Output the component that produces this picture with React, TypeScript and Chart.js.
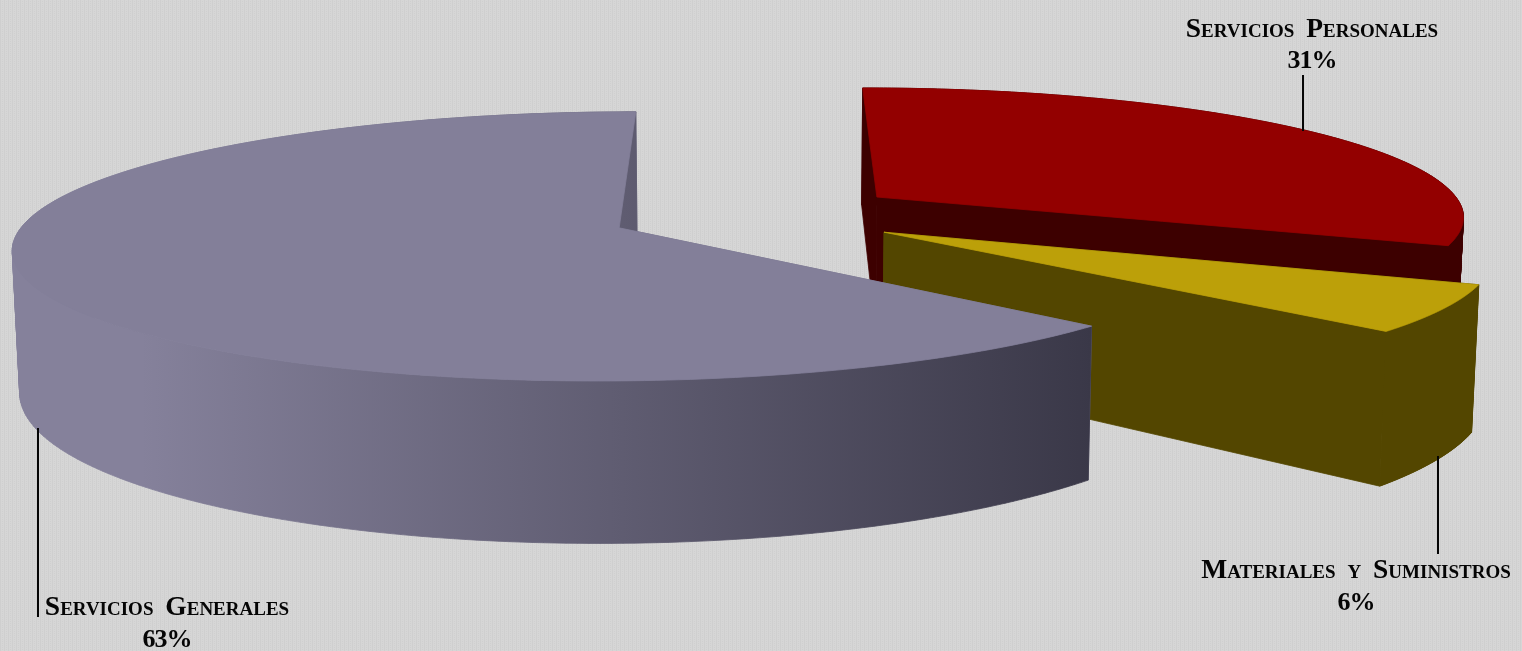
import React, { useEffect, useRef } from "react";
import { Chart, registerables } from "chart.js";

Chart.register(...registerables);

const categories = ["Servicios Personales", "Materiales y Suministros", "Servicios Generales"];
const shares = [31.1, 5.7, 63.2];

const topColors = ["#930000", "#bca009", "#837f99"];
const startWallColors = ["#3d0000", "#534600", "#757189"];
const outerWallStops: string[][] = [
  ["#3d0000", "#3d0000"],
  ["#534600", "#534600"],
  ["#85819b", "#85819b", "#3a3848"],
];

const W = 1522;
const H = 651;
const CX = 756.5;
const CY = 214.7;
const RADIUS = 590;
const OFFSET = 592; // the library applies offset / 4
const TILT = 128.4;
const PERSP = 0.136;

const labelLayout = [
  { x: 1312, y: 30, py: 61, line: [1303, 75, 1303, 131] },
  { x: 1356, y: 571, py: 603, line: [1438, 456, 1438, 554] },
  { x: 167, y: 608, py: 640, line: [38, 428, 38, 617] },
];

type P = [number, number];

function project(X: number, Y: number, R: number, cx: number, cy: number): P {
  const n = Y / R;
  const s = 1 / (1 - PERSP * n);
  return [cx + X * s, cy + TILT * n * s];
}
function lower(p: P, cx: number): P {
  return [cx + (p[0] - cx) * 0.99, 1.155 * p[1] + 103.4];
}
function area(q: P[]) {
  let a = 0;
  q.forEach((p, i) => {
    const n = q[(i + 1) % q.length];
    a += p[0] * n[1] - n[0] * p[1];
  });
  return a;
}
function trace(ctx: CanvasRenderingContext2D, pts: P[]) {
  pts.forEach((p, i) => (i ? ctx.lineTo(p[0], p[1]) : ctx.moveTo(p[0], p[1])));
  ctx.closePath();
}
function paint(ctx: CanvasRenderingContext2D, fill: string | CanvasGradient) {
  ctx.fillStyle = fill;
  ctx.strokeStyle = fill;
  ctx.lineWidth = 0.8;
  ctx.fill();
  ctx.stroke();
}
function poly(ctx: CanvasRenderingContext2D, pts: P[], fill: string | CanvasGradient) {
  ctx.beginPath();
  trace(ctx, pts);
  paint(ctx, fill);
}

const pie3d = {
  id: "pie3d",
  beforeDatasetDraw(chart: any, args: any) {
    const ctx: CanvasRenderingContext2D = chart.ctx;
    args.meta.data.forEach((el: any, i: number) => {
      const { x, y, startAngle, endAngle } = el;
      const R = Number.isFinite(el.outerRadius) && el.outerRadius > 0 ? el.outerRadius : RADIUS;
      const mid = (startAngle + endAngle) / 2;
      const off = (el.options.offset || 0) / 4;
      const ox = Math.cos(mid) * off;
      const oy = Math.sin(mid) * off;
      const apex = project(ox, oy, R, x, y);
      const rim: P[] = [];
      const steps = 240;
      for (let k = 0; k <= steps; k++) {
        const a = startAngle + ((endAngle - startAngle) * k) / steps;
        rim.push(project(ox + R * Math.cos(a), oy + R * Math.sin(a), R, x, y));
      }
      const first = rim[0];
      const last = rim[steps];
      poly(ctx, [apex, first, lower(first, x), lower(apex, x)], startWallColors[i]);
      poly(ctx, [apex, last, lower(last, x), lower(apex, x)], startWallColors[i]);
      const xs = rim.map((p) => p[0]);
      const g = ctx.createLinearGradient(Math.min(...xs), 0, Math.max(...xs), 0);
      const stops = outerWallStops[i];
      if (stops.length === 3) {
        g.addColorStop(0, stops[0]);
        g.addColorStop(0.12, stops[1]);
        g.addColorStop(1, stops[2]);
      } else {
        g.addColorStop(0, stops[0]);
        g.addColorStop(1, stops[1]);
      }
      ctx.beginPath();
      for (let k = 0; k < steps; k++) {
        const q: P[] = [rim[k], rim[k + 1], lower(rim[k + 1], x), lower(rim[k], x)];
        trace(ctx, area(q) < 0 ? q.reverse() : q);
      }
      paint(ctx, g);
      poly(ctx, [apex, ...rim], el.options.backgroundColor);
    });
    return false;
  },
  afterDraw(chart: any) {
    const ctx: CanvasRenderingContext2D = chart.ctx;
    ctx.save();
    ctx.fillStyle = "#050505";
    ctx.strokeStyle = "#050505";
    ctx.textAlign = "center";
    ctx.textBaseline = "middle";
    categories.forEach((name, i) => {
      const l = labelLayout[i];
      ctx.lineWidth = 2;
      ctx.beginPath();
      ctx.moveTo(l.line[0], l.line[1]);
      ctx.lineTo(l.line[2], l.line[3]);
      ctx.stroke();
      ctx.font = 'small-caps bold 27.5px "Liberation Serif"';
      (ctx as any).wordSpacing = "5px";
      ctx.fillText(name, l.x, l.y);
      (ctx as any).wordSpacing = "0px";
      ctx.font = 'bold 26px "Liberation Serif"';
      (ctx as any).letterSpacing = "-1px";
      ctx.fillText(Math.round(shares[i]) + "%", l.x, l.py);
      (ctx as any).letterSpacing = "0px";
    });
    ctx.restore();
  },
};

const backdrop = {
  id: "backdrop",
  beforeDraw(chart: any) {
    const ctx: CanvasRenderingContext2D = chart.ctx;
    const tile = document.createElement("canvas");
    tile.width = 4;
    tile.height = 4;
    const t = tile.getContext("2d")!;
    t.fillStyle = "#d6d6d6";
    t.fillRect(0, 0, 4, 4);
    t.fillStyle = "#cfcfcf";
    t.fillRect(0, 0, 1, 4);
    t.fillRect(2, 1, 1, 1);
    t.fillRect(2, 3, 1, 1);
    ctx.save();
    ctx.fillStyle = ctx.createPattern(tile, "repeat")!;
    ctx.fillRect(0, 0, W, H);
    ctx.restore();
  },
};

export default function App() {
  const ref = useRef<HTMLCanvasElement>(null);
  useEffect(() => {
    const chart = new Chart(ref.current!, {
      type: "pie",
      data: {
        labels: categories,
        datasets: [
          {
            data: shares,
            backgroundColor: topColors,
            borderWidth: 0,
            offset: OFFSET,
            radius: RADIUS,
          },
        ],
      },
      options: {
        responsive: false,
        animation: false,
        rotation: 0,
        layout: { padding: { left: 0, top: 0, right: W - 2 * CX, bottom: H - 2 * CY } },
        plugins: { legend: { display: false }, tooltip: { enabled: false } },
      } as any,
      plugins: [backdrop, pie3d],
    });
    return () => chart.destroy();
  }, []);
  return (
    <div style={{ position: "fixed", left: 0, top: 0, width: W, height: H }}>
      <canvas ref={ref} width={W} height={H} style={{ display: "block", width: W, height: H }} />
    </div>
  );
}
